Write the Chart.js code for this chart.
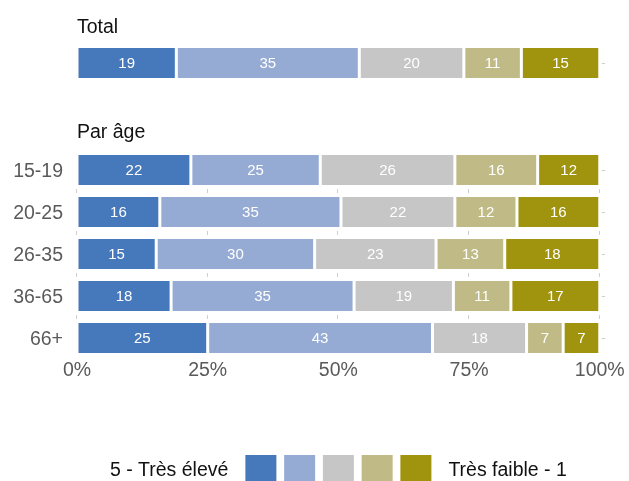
<!DOCTYPE html>
<html lang="fr">
<head>
<meta charset="UTF-8">
<title>Par âge</title>
<style>
  body { margin: 0; background: #fff; }
  #wrap { position: relative; width: 629px; height: 481px; }
  #wrap canvas { position: absolute; left: 0; top: 0; }
</style>
<script src="https://cdn.jsdelivr.net/npm/chart.js"></script>
</head>
<body>
<div id="wrap">
  <canvas id="totalChart" width="629" height="100"></canvas>
  <canvas id="ageChart" width="629" height="481"></canvas>
</div>
<script>
// answer levels, from "5" down to "1"
const levels = ['5 - Très élevé', '4', '3', '2', 'Très faible - 1'];
const colors = ['#4679bb', '#96abd4', '#c6c6c6', '#c0ba86', '#a0930d'];

// overall shares (%), one value per level
const totalValues = [19, 35, 20, 11, 15];

// shares by age group (%), one array per level
const ageGroups = ['15-19', '20-25', '26-35', '36-65', '66+'];
const level5 = [22, 16, 15, 18, 25];
const level4 = [25, 35, 30, 35, 43];
const level3 = [26, 22, 23, 19, 18];
const level2 = [16, 12, 13, 11, 7];
const level1 = [12, 16, 18, 17, 7];

const xTicks = [0, 25, 50, 75, 100];

const FONT = '"Liberation Sans", Arial, Helvetica, sans-serif';
const GRID = '#cfcfcf';
const AXIS_TEXT = '#5a5a5a';

// short grid marks: only in the gaps between bars, plus a stub past 100%
const gridMarks = {
  id: 'gridMarks',
  beforeDatasetsDraw(chart) {
    const xs = chart.scales.x, ys = chart.scales.y;
    const ctx = chart.ctx;
    const centers = ys.ticks.map((t, i) => ys.getPixelForTick(i));
    const seg = (x1, y1, x2, y2) => {
      ctx.beginPath();
      ctx.moveTo(x1, y1);
      ctx.lineTo(x2, y2);
      ctx.stroke();
    };
    ctx.save();
    ctx.strokeStyle = GRID;
    ctx.lineWidth = 1;
    for (let i = 0; i < centers.length - 1; i++) {
      const mid = (centers[i] + centers[i + 1]) / 2;
      xTicks.forEach(v => {
        const px = Math.round(xs.getPixelForValue(v)) - 0.5;
        seg(px, mid - 2, px, mid + 2);
      });
    }
    const end = xs.getPixelForValue(100);
    centers.forEach(cy => {
      const py = Math.round(cy) + 0.5;
      seg(end + 2, py, chart.chartArea.right, py);
    });
    ctx.restore();
  }
};

// white numbers in the middle of each segment
const segmentLabels = {
  id: 'segmentLabels',
  afterDatasetsDraw(chart) {
    const ctx = chart.ctx;
    ctx.save();
    ctx.font = '15px ' + FONT;
    ctx.fillStyle = '#fff';
    ctx.textAlign = 'center';
    ctx.textBaseline = 'middle';
    chart.data.datasets.forEach((ds, i) => {
      chart.getDatasetMeta(i).data.forEach((bar, j) => {
        ctx.fillText(ds.values[j], (bar.x + bar.base) / 2, bar.y + 1);
      });
    });
    ctx.restore();
  }
};

// section title above the plot, aligned on the 0% line
const heading = {
  id: 'heading',
  afterDraw(chart, args, opts) {
    if (!opts.text) return;
    const ctx = chart.ctx;
    ctx.save();
    ctx.font = '19.5px ' + FONT;
    ctx.fillStyle = '#111';
    ctx.textAlign = 'left';
    ctx.textBaseline = 'alphabetic';
    ctx.fillText(opts.text, chart.chartArea.left, opts.y);
    ctx.restore();
  }
};

// one-line legend: first label, the colour boxes, last label
const scaleLegend = {
  id: 'scaleLegend',
  afterDraw(chart, args, opts) {
    if (!opts.show) return;
    const ctx = chart.ctx;
    const box = 31, boxH = 26, step = 38.75, gap = 17;
    ctx.save();
    ctx.font = '19.5px ' + FONT;
    const first = levels[0], last = levels[levels.length - 1];
    const w1 = ctx.measureText(first).width;
    const boxesW = step * (colors.length - 1) + box;
    // boxes centred under the 0-100% span
    const x0 = chart.scales.x.getPixelForValue(50) - boxesW / 2;
    ctx.fillStyle = '#111';
    ctx.textBaseline = 'alphabetic';
    ctx.textAlign = 'left';
    ctx.fillText(first, x0 - gap - w1, opts.y + 8);
    colors.forEach((c, i) => {
      ctx.fillStyle = c;
      ctx.fillRect(x0 + i * step, opts.y - boxH / 2, box, boxH);
    });
    ctx.fillStyle = '#111';
    ctx.fillText(last, x0 + boxesW + gap, opts.y + 8);
    ctx.restore();
  }
};

function buildDatasets(rows) {
  const n = rows[0].length;
  const sums = [];
  for (let j = 0; j < n; j++) {
    sums.push(rows.reduce((a, r) => a + r[j], 0));
  }
  return rows.map((r, i) => ({
    label: levels[i],
    values: r,
    data: r.map((v, j) => v / sums[j] * 100),
    backgroundColor: colors[i],
    borderColor: '#fff',
    borderWidth: 1.5,
    borderSkipped: false,
    barPercentage: 0.78,
    categoryPercentage: 1
  }));
}

function makeChart(id, labels, rows, cfg) {
  return new Chart(document.getElementById(id), {
    type: 'bar',
    data: { labels: labels, datasets: buildDatasets(rows) },
    plugins: [gridMarks, segmentLabels, heading, scaleLegend],
    options: {
      indexAxis: 'y',
      responsive: false,
      animation: false,
      layout: { padding: { left: 0, right: 24, top: cfg.top, bottom: cfg.bottom } },
      plugins: {
        legend: { display: false },
        tooltip: { enabled: false },
        heading: { text: cfg.title, y: cfg.titleY },
        scaleLegend: { show: cfg.legend, y: cfg.legendY }
      },
      scales: {
        x: {
          type: 'linear',
          stacked: true,
          min: 0,
          max: 101,
          afterBuildTicks: s => { s.ticks = xTicks.map(v => ({ value: v })); },
          afterFit: s => { s.height = cfg.xHeight; },
          grid: { display: false, drawTicks: false },
          border: { display: false },
          ticks: {
            display: cfg.xLabels,
            padding: 0,
            color: AXIS_TEXT,
            font: { family: FONT, size: 19.5 },
            callback: v => v + '%'
          }
        },
        y: {
          type: 'category',
          stacked: true,
          afterFit: s => { s.width = 77; },
          grid: { display: false, drawTicks: false },
          border: { display: false },
          ticks: {
            display: cfg.yLabels,
            padding: 14,
            labelOffset: 2,
            color: AXIS_TEXT,
            font: { family: FONT, size: 19.5 }
          }
        }
      }
    }
  });
}

// the whole sample as a single bar
makeChart('totalChart', ['Total'], totalValues.map(v => [v]), {
  top: 42, bottom: 16, xHeight: 0, xLabels: false, yLabels: false,
  title: 'Total', titleY: 33, legend: false
});

// one bar per age group, with the axis and the legend
makeChart('ageChart', ageGroups, [level5, level4, level3, level2, level1], {
  top: 149, bottom: 92, xHeight: 30, xLabels: true, yLabels: true,
  title: 'Par âge', titleY: 138, legend: true, legendY: 468
});
</script>
</body>
</html>
